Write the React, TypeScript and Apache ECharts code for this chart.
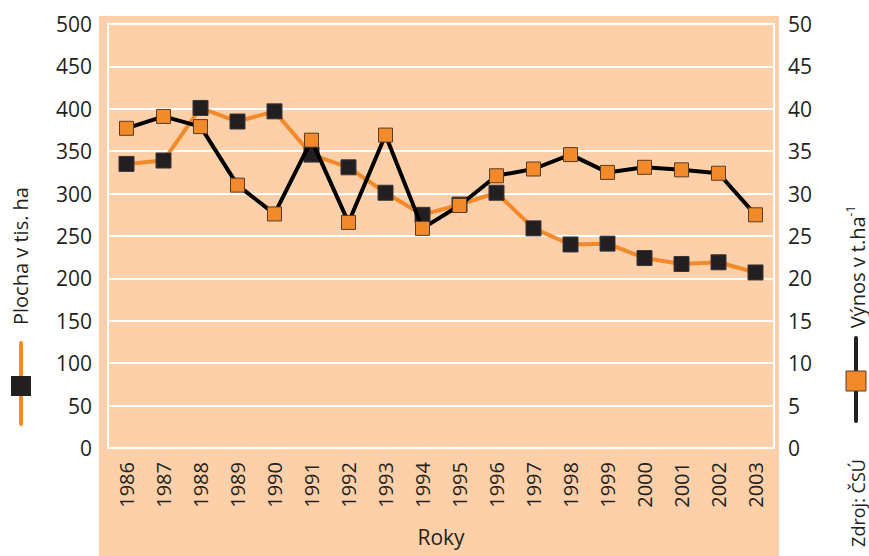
import React, { useEffect, useRef } from "react";
import * as echarts from "echarts";

const years = ["1986","1987","1988","1989","1990","1991","1992","1993","1994","1995","1996","1997","1998","1999","2000","2001","2002","2003"];
const plocha = [335, 339, 401, 385, 397, 346, 331, 301, 275, 287, 301, 259, 240, 241, 224, 217, 219, 207];
const vynos = [37.7, 39.1, 37.9, 31.0, 27.6, 36.3, 26.6, 36.9, 25.9, 28.6, 32.1, 32.9, 34.6, 32.5, 33.1, 32.8, 32.4, 27.5];

const PEACH = "#FDD0A9";
const ORANGE = "#F28A2B";
const DARK = "#231F20";
const FONT = "Open Sans";

export default function App() {
  const ref = useRef<HTMLDivElement>(null);
  useEffect(() => {
    if (!ref.current) return;
    const chart = echarts.init(ref.current, null, { renderer: "svg" });
    chart.setOption({
      animation: false,
      backgroundColor: "#ffffff",
      textStyle: { fontFamily: FONT, color: DARK },
      graphic: [
        { type: "rect", z: -10, silent: true, shape: { x: 99, y: 16, width: 680, height: 540 }, style: { fill: PEACH } },
        // left legend
        { type: "line", shape: { x1: 21, y1: 343, x2: 21, y2: 424 }, style: { stroke: ORANGE, lineWidth: 4, lineCap: "round" } },
        { type: "rect", shape: { x: 11, y: 376, width: 20, height: 20 }, style: { fill: DARK } },
        { type: "text", x: 20, y: 256, rotation: Math.PI / 2, style: { text: "Plocha v tis. ha", font: `20px '${FONT}'`, fill: DARK, align: "center", verticalAlign: "middle" } },
        // right legend
        { type: "line", shape: { x1: 856, y1: 338, x2: 856, y2: 421 }, style: { stroke: DARK, lineWidth: 4, lineCap: "round" } },
        { type: "rect", shape: { x: 846, y: 371, width: 20, height: 20 }, style: { fill: ORANGE, stroke: "#5a3c22", lineWidth: 1 } },
        {
          type: "text", x: 857, y: 267, rotation: Math.PI / 2,
          style: {
            text: "{a|Výnos v t.ha}{s|-1}",
            align: "center", verticalAlign: "middle", fill: DARK,
            rich: {
              a: { fontSize: 20, fontFamily: FONT, fill: DARK, lineHeight: 26 },
              s: { fontSize: 12, fontFamily: FONT, fill: DARK, verticalAlign: "top", lineHeight: 26 },
            },
          },
        },
        { type: "text", x: 858, y: 503, rotation: Math.PI / 2, style: { text: "Zdroj: ČSÚ", font: `18px '${FONT}'`, fill: DARK, align: "center", verticalAlign: "middle" } },
      ],
      grid: {
        left: 108, right: 95, top: 24, bottom: 108,
        outerBoundsMode: "none",
        containLabel: false,
        show: true, borderColor: "#ffffff", borderWidth: 2, backgroundColor: "transparent",
      },
      xAxis: {
        type: "category",
        data: years,
        boundaryGap: true,
        axisLine: { show: false },
        axisTick: { show: false },
        axisLabel: { rotate: 90, margin: 14, fontSize: 20, color: DARK, fontFamily: FONT },
        name: "Roky",
        nameLocation: "middle",
        nameGap: 78,
        nameTextStyle: { fontSize: 21, color: DARK, fontFamily: FONT },
      },
      yAxis: [
        {
          type: "value", min: 0, max: 500, interval: 50, position: "left",
          axisLine: { show: false }, axisTick: { show: false },
          axisLabel: { margin: 16, fontSize: 21, color: DARK, fontFamily: FONT, padding: [6, 0, 0, 0] },
          splitLine: { show: true, lineStyle: { color: "#ffffff", width: 2 } },
        },
        {
          type: "value", min: 0, max: 50, interval: 5, position: "right",
          axisLine: { show: false }, axisTick: { show: false },
          axisLabel: { margin: 14, fontSize: 21, color: DARK, fontFamily: FONT, padding: [0, 0, 10, 0] },
          splitLine: { show: false },
        },
      ],
      series: [
        {
          name: "Plocha v tis. ha",
          type: "line",
          yAxisIndex: 0,
          data: plocha,
          symbol: "rect",
          symbolSize: 15,
          lineStyle: { color: ORANGE, width: 4 },
          itemStyle: { color: DARK, borderColor: "#3a3536", borderWidth: 1 },
          z: 2,
        },
        {
          name: "Výnos v t.ha-1",
          type: "line",
          yAxisIndex: 1,
          data: vynos,
          symbol: "rect",
          symbolSize: 14,
          lineStyle: { color: "#000000", width: 4 },
          itemStyle: { color: ORANGE, borderColor: "#5a3c22", borderWidth: 1 },
          z: 3,
        },
      ],
    });
    return () => chart.dispose();
  }, []);
  return <div ref={ref} style={{ position: "fixed", left: 0, top: 0, width: 869, height: 556 }} />;
}
